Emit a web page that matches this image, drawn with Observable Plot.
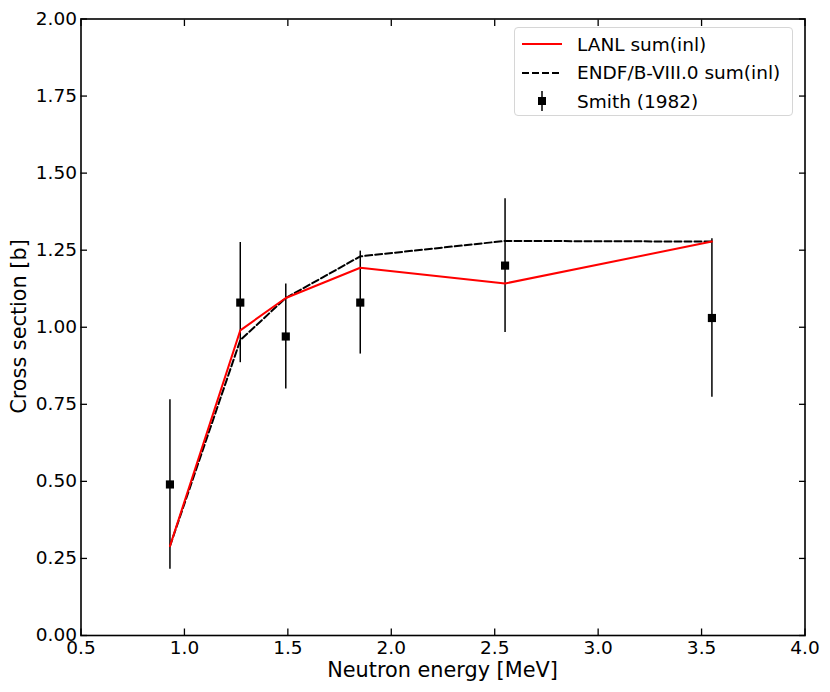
<!DOCTYPE html>
<html>
<head>
<meta charset="utf-8">
<script src="https://cdn.jsdelivr.net/npm/d3@7"></script>
<script src="https://cdn.jsdelivr.net/npm/@observablehq/plot@0.6"></script>
<style>
  html, body { margin: 0; padding: 0; background: #fff; }
  #wrap { position: relative; width: 830px; height: 692px; font-family: "DejaVu Sans", sans-serif; }
  #legend { position: absolute; left: 514px; top: 27px; width: 279px; height: 89px;
    border: 1px solid #d6d6d6; border-radius: 4px; background: rgba(255,255,255,0.8);
    font-size: 18.5px; color: #000; box-sizing: border-box; }
  .row { position: absolute; left: 7px; height: 28px; display: flex; align-items: center; }
  .row svg { width: 40px; height: 20px; margin-right: 15px; }
</style>
</head>
<body>
<div id="wrap"></div>
<script>
// Data
const energy = [0.93, 1.27, 1.49, 1.85, 2.55, 3.55];
const lanl = [0.29, 0.99, 1.095, 1.193, 1.142, 1.278];
const endf = [0.29, 0.958, 1.095, 1.23, 1.28, 1.278];
const smithX = [0.93, 1.27, 1.49, 1.85, 2.55, 3.55];
const smithY = [0.49, 1.08, 0.97, 1.08, 1.20, 1.03];
const smithErr = [0.275, 0.195, 0.17, 0.167, 0.217, 0.257];
const xTicks = [0.5, 1.0, 1.5, 2.0, 2.5, 3.0, 3.5, 4.0];
const yTicks = [0.00, 0.25, 0.50, 0.75, 1.00, 1.25, 1.50, 1.75, 2.00];
const seriesNames = ["LANL sum(inl)", "ENDF/B-VIII.0 sum(inl)", "Smith (1982)"];

const lanlData = energy.map((x, i) => ({x, y: lanl[i]}));
const endfData = energy.map((x, i) => ({x, y: endf[i]}));
const smith = smithX.map((x, i) => ({x, y: smithY[i], lo: smithY[i] - smithErr[i], hi: smithY[i] + smithErr[i]}));

const tickSize = -6.5;
const noLabel = () => "";
const chart = Plot.plot({
  width: 830,
  height: 692,
  marginLeft: 80.5,
  marginRight: 25.5,
  marginTop: 18.5,
  marginBottom: 57,
  style: {fontFamily: "DejaVu Sans", fontSize: "18.5px", color: "#000", background: "#fff"},
  x: {domain: [0.5, 4.0]},
  y: {domain: [0, 2.0]},
  marks: [
    Plot.ruleX(smith, {x: "x", y1: "lo", y2: "hi", stroke: "#000", strokeWidth: 1.5}),
    Plot.line(endfData, {x: "x", y: "y", stroke: "#000", strokeWidth: 2, strokeDasharray: "7,3"}),
    Plot.line(lanlData, {x: "x", y: "y", stroke: "#ff0000", strokeWidth: 2}),
    Plot.dot(smith, {x: "x", y: "y", symbol: "square", r: 4.6, fill: "#000", stroke: "none"}),
    Plot.axisX(xTicks, {anchor: "bottom", tickSize, tickPadding: 12, tickFormat: d3.format(".1f"), strokeWidth: 1.3, fontSize: 18.5, label: null}),
    Plot.axisX(xTicks, {anchor: "top", tickSize, tickFormat: noLabel, strokeWidth: 1.3, label: null}),
    Plot.axisY(yTicks, {anchor: "left", tickSize, tickPadding: 10.5, tickFormat: d3.format(".2f"), strokeWidth: 1.3, fontSize: 18.5, label: null}),
    Plot.axisY(yTicks, {anchor: "right", tickSize, tickFormat: noLabel, strokeWidth: 1.3, label: null}),
    Plot.frame({stroke: "#000", strokeWidth: 1.6})
  ]
});

const wrap = document.getElementById("wrap");
wrap.appendChild(chart);

// Axis titles as SVG text
const ns = "http://www.w3.org/2000/svg";
function addText(txt, attrs) {
  const t = document.createElementNS(ns, "text");
  for (const k in attrs) t.setAttribute(k, attrs[k]);
  t.textContent = txt;
  chart.appendChild(t);
}
addText("Neutron energy [MeV]", {x: 442.5, y: 677, "text-anchor": "middle", "font-size": "20.8px", "font-family": "DejaVu Sans", fill: "#000"});
addText("Cross section [b]", {transform: "translate(26,326.5) rotate(-90)", "text-anchor": "middle", "font-size": "20.8px", "font-family": "DejaVu Sans", fill: "#000"});

// Legend
const legend = document.createElement("div");
legend.id = "legend";
const samples = [
  `<svg viewBox="0 0 40 20"><line x1="0" y1="10" x2="40" y2="10" stroke="#ff0000" stroke-width="2"/></svg>`,
  `<svg viewBox="0 0 40 20"><line x1="0" y1="10" x2="40" y2="10" stroke="#000" stroke-width="2" stroke-dasharray="7,3"/></svg>`,
  `<svg viewBox="0 0 40 20"><line x1="20" y1="0" x2="20" y2="20" stroke="#000" stroke-width="1.5"/><rect x="16" y="6" width="8" height="8" fill="#000"/></svg>`
];
seriesNames.forEach((name, i) => {
  const row = document.createElement("div");
  row.className = "row";
  row.style.top = (2 + i * 28.5) + "px";
  row.innerHTML = samples[i] + `<span>${name}</span>`;
  legend.appendChild(row);
});
wrap.appendChild(legend);
</script>
</body>
</html>
